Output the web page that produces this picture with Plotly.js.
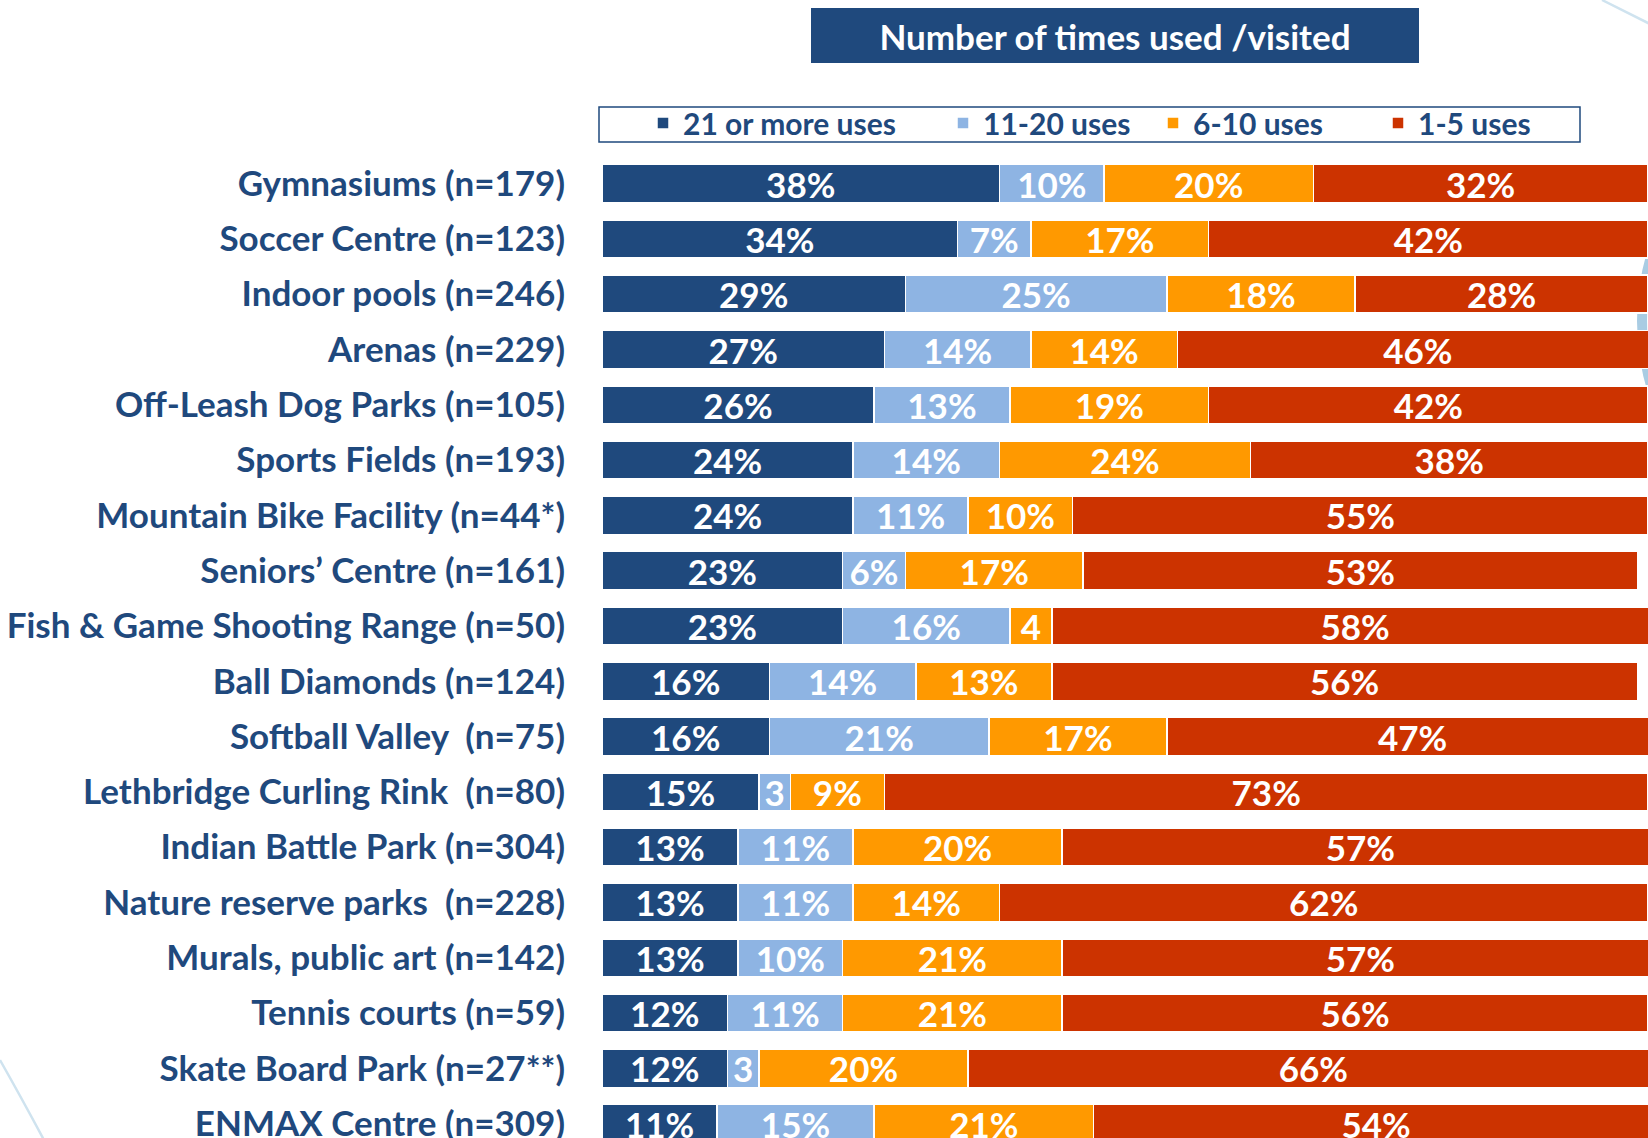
<!DOCTYPE html>
<html>
<head>
<meta charset="utf-8">
<script src="https://cdn.plot.ly/plotly-3.0.1.min.js"></script>
<style>
  html, body { margin: 0; padding: 0; background: #ffffff; }
  #chart { width: 1648px; height: 1138px; }
</style>
</head>
<body>
<div id="chart"></div>
<script>
// ---- Data (top to bottom) ----
const categories = [
  "Gymnasiums (n=179)",
  "Soccer Centre (n=123)",
  "Indoor pools (n=246)",
  "Arenas (n=229)",
  "Off-Leash Dog Parks (n=105)",
  "Sports Fields (n=193)",
  "Mountain Bike Facility (n=44*)",
  "Seniors\u2019 Centre (n=161)",
  "Fish & Game Shooting Range (n=50)",
  "Ball Diamonds (n=124)",
  "Softball Valley\u00a0 (n=75)",
  "Lethbridge Curling Rink\u00a0 (n=80)",
  "Indian Battle Park (n=304)",
  "Nature reserve parks\u00a0 (n=228)",
  "Murals, public art (n=142)",
  "Tennis courts (n=59)",
  "Skate Board Park (n=27**)",
  "ENMAX Centre (n=309)"
];
const uses21plus = [38, 34, 29, 27, 26, 24, 24, 23, 23, 16, 16, 15, 13, 13, 13, 12, 12, 11];
const uses11to20 = [10, 7, 25, 14, 13, 14, 11, 6, 16, 14, 21, 3, 11, 11, 10, 11, 3, 15];
const uses6to10  = [20, 17, 18, 14, 19, 24, 10, 17, 4, 13, 17, 9, 20, 14, 21, 21, 20, 21];
const uses1to5   = [32, 42, 28, 46, 42, 38, 55, 53, 58, 56, 47, 73, 57, 62, 57, 56, 66, 54];
const seriesNames = ["21 or more uses", "11-20 uses", "6-10 uses", "1-5 uses"];
const chartTitle = "Number of times used /visited";

const seriesValues = [uses21plus, uses11to20, uses6to10, uses1to5];
const colors = ["#1F497D", "#8EB4E3", "#FF9900", "#CC3300"];
const legendIds = ["legend", "legend2", "legend3", "legend4"];

// ---- Geometry helpers (pixel -> paper) ----
const W = 1648, H = 1138;
const ML = 602, MR = 0, MT = 156, MB = 0;
const PW = W - ML - MR, PH = H - MT - MB;
const px = x => (x - ML) / PW;
const py = y => (H - MB - y) / PH;

const FONT = "Lato, 'Open Sans', sans-serif";
const labelOf = v => (v < 5 ? String(v) : v + "%");

const traces = seriesValues.map((vals, i) => ({
  type: "bar",
  orientation: "h",
  name: seriesNames[i],
  y: categories,
  x: vals,
  text: vals.map(labelOf),
  textposition: "inside",
  insidetextanchor: "middle",
  textangle: 0,
  constraintext: "none",
  textfont: { family: FONT, size: 35, color: "#FFFFFF", weight: 700 },
  marker: { color: colors[i], line: { color: "#FFFFFF", width: 1.5 } },
  hoverinfo: "name+x+y",
  legend: legendIds[i],
  cliponaxis: true
}));

const legendTextStart = [685, 985, 1195, 1420];
const legendFont = { family: FONT, size: 30, color: "#1F497D", weight: 700 };
const legends = {};
legendIds.forEach((id, i) => {
  legends[id] = {
    orientation: "h",
    x: px(legendTextStart[i] - 42),
    xanchor: "left",
    y: py(123),
    yanchor: "middle",
    bgcolor: "rgba(0,0,0,0)",
    borderwidth: 0,
    font: legendFont,
    itemclick: false,
    itemdoubleclick: false
  };
});

const layout = Object.assign({
  width: W,
  height: H,
  margin: { l: ML, r: MR, t: MT, b: MB, pad: 0 },
  paper_bgcolor: "#FFFFFF",
  plot_bgcolor: "rgba(0,0,0,0)",
  barmode: "stack",
  bargap: 0.313,
  showlegend: true,
  xaxis: {
    range: [0, 100],
    showgrid: false,
    zeroline: false,
    showticklabels: false,
    showline: false,
    fixedrange: true
  },
  yaxis: {
    type: "category",
    categoryorder: "array",
    categoryarray: categories,
    range: [17.26, -0.5],
    showgrid: false,
    zeroline: false,
    showline: false,
    ticks: "",
    ticklabelstandoff: 36,
    tickfont: { family: FONT, size: 35, color: "#1F497D", weight: 700 },
    fixedrange: true
  },
  annotations: [
    {
      xref: "paper", yref: "paper",
      x: px(1115), y: py(35.5),
      xanchor: "center", yanchor: "middle",
      text: chartTitle,
      showarrow: false,
      font: { family: FONT, size: 35, color: "#FFFFFF", weight: 700 },
      bgcolor: "#1F497D",
      width: 600, height: 47, borderpad: 4, borderwidth: 0
    }
  ],
  shapes: [
    // legend frame
    {
      type: "rect", xref: "paper", yref: "paper", layer: "below",
      x0: px(599), x1: px(1580), y0: py(142), y1: py(107),
      line: { color: "#1F497D", width: 1.5 }, fillcolor: "#FFFFFF"
    },
    // background decorations
    {
      type: "line", xref: "paper", yref: "paper", layer: "below",
      x0: px(1602), y0: py(0), x1: px(1650), y1: py(24),
      line: { color: "#CFE3EF", width: 2.5 }
    },
    {
      type: "path", xref: "paper", yref: "paper", layer: "below",
      path: `M${px(0)},${py(1060)} Q${px(21)},${py(1097)} ${px(44)},${py(1140)}`,
      line: { color: "#CFE3EF", width: 2.5 }
    },
    {
      type: "circle", xref: "paper", yref: "paper", layer: "below",
      x0: px(1642), x1: px(2120), y0: py(560), y1: py(82),
      line: { color: "#A9CCE3", width: 10 }
    }
  ]
}, legends);

Plotly.newPlot("chart", traces, layout, { displayModeBar: false, staticPlot: true });
</script>
</body>
</html>
